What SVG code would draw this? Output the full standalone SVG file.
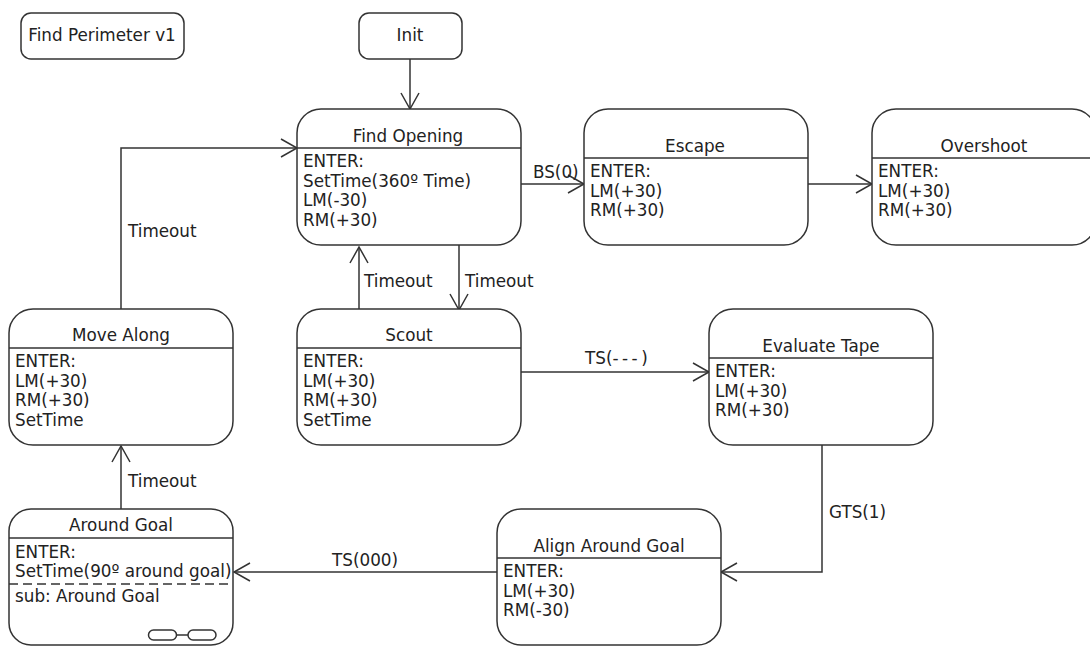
<svg xmlns="http://www.w3.org/2000/svg" width="1090" height="646" viewBox="0 0 1090 646">
<style>
.n{fill:#fff;stroke:#333;stroke-width:1.5}
.d{stroke:#333;stroke-width:1.5;fill:none}
.c{stroke:#333;stroke-width:1.5;fill:none}
text{font-family:"DejaVu Sans",sans-serif;font-size:16.8px;fill:#222}
.m{text-anchor:middle}
</style>
<defs><marker id="a" markerUnits="userSpaceOnUse" markerWidth="20" markerHeight="22" refX="17" refY="11" orient="auto"><path d="M1 2L17 11L1 20" fill="none" stroke="#333" stroke-width="1.5"/></marker></defs>
<rect width="1090" height="646" fill="#fff"/>
<g id="connectors">
<path class="c" marker-end="url(#a)" d="M410 59V109"/>
<path class="c" marker-end="url(#a)" d="M521 184H584"/>
<path class="c" marker-end="url(#a)" d="M808 184H872"/>
<path class="c" marker-end="url(#a)" d="M459 245V310"/>
<path class="c" marker-end="url(#a)" d="M359 309V247"/>
<path class="c" marker-end="url(#a)" d="M521 372H709"/>
<path class="c" marker-end="url(#a)" d="M121 309V148H297"/>
<path class="c" marker-end="url(#a)" d="M121 509V446"/>
<path class="c" marker-end="url(#a)" d="M822 445V572H721"/>
<path class="c" marker-end="url(#a)" d="M497 572H234"/>
<text x="533" y="178">BS(0)</text>
<text x="364" y="287">Timeout</text>
<text x="465" y="287">Timeout</text>
<text x="128" y="237">Timeout</text>
<text x="128" y="487">Timeout</text>
<text x="585" y="364">TS(<tspan letter-spacing="3.5">---</tspan>)</text>
<text x="829" y="518">GTS(1)</text>
<text x="332" y="566">TS(000)</text>
</g>
<g id="find-perimeter"><rect class="n" x="21" y="13" width="163" height="46" rx="10"/><text x="102" y="41" class="m">Find Perimeter v1</text></g>
<g id="init"><rect class="n" x="359" y="13" width="103" height="46" rx="10"/><text x="410" y="41" class="m">Init</text></g>
<g id="find-opening"><rect class="n" x="297" y="109" width="224" height="136" rx="24"/><path class="d" d="M297 148H521"/><text x="408" y="142" class="m">Find Opening</text><text x="303" y="167">ENTER:</text><text x="303" y="187">SetTime(360º Time)</text><text x="303" y="206">LM(-30)</text><text x="303" y="226">RM(+30)</text></g>
<g id="escape"><rect class="n" x="584" y="109" width="224" height="136" rx="24"/><path class="d" d="M584 158H808"/><text x="695" y="152" class="m">Escape</text><text x="590" y="177">ENTER:</text><text x="590" y="197">LM(+30)</text><text x="590" y="216">RM(+30)</text></g>
<g id="overshoot"><rect class="n" x="872" y="109" width="224" height="136" rx="24"/><path class="d" d="M872 158H1096"/><text x="984" y="152" class="m">Overshoot</text><text x="878" y="177">ENTER:</text><text x="878" y="197">LM(+30)</text><text x="878" y="216">RM(+30)</text></g>
<g id="scout"><rect class="n" x="297" y="309" width="224" height="136" rx="24"/><path class="d" d="M297 348H521"/><text x="409" y="341" class="m">Scout</text><text x="303" y="367">ENTER:</text><text x="303" y="387">LM(+30)</text><text x="303" y="406">RM(+30)</text><text x="303" y="426">SetTime</text></g>
<g id="move-along"><rect class="n" x="9" y="309" width="224" height="136" rx="24"/><path class="d" d="M9 348H233"/><text x="121" y="341" class="m">Move Along</text><text x="15" y="367">ENTER:</text><text x="15" y="387">LM(+30)</text><text x="15" y="406">RM(+30)</text><text x="15" y="426">SetTime</text></g>
<g id="evaluate-tape"><rect class="n" x="709" y="309" width="224" height="136" rx="24"/><path class="d" d="M709 358H933"/><text x="821" y="352" class="m">Evaluate Tape</text><text x="715" y="377">ENTER:</text><text x="715" y="397">LM(+30)</text><text x="715" y="416">RM(+30)</text></g>
<g id="align-around-goal"><rect class="n" x="497" y="509" width="224" height="136" rx="24"/><path class="d" d="M497 558H721"/><text x="609" y="552" class="m">Align Around Goal</text><text x="503" y="577">ENTER:</text><text x="503" y="597">LM(+30)</text><text x="503" y="616">RM(-30)</text></g>
<g id="around-goal"><rect class="n" x="9" y="509" width="224" height="136" rx="22"/><path class="d" d="M9 538H233"/><path class="d" stroke-dasharray="9 5" d="M9 584H233"/><text x="121" y="531" class="m">Around Goal</text><text x="15" y="558">ENTER:</text><text x="15" y="577">SetTime(90º around goal)</text><text x="15" y="602">sub: Around Goal</text><rect class="d" x="148.500" y="630" width="28" height="10" rx="5"/><rect class="d" x="188" y="630" width="28" height="10" rx="5"/><path class="d" d="M176.500 635H188"/></g>
</svg>
